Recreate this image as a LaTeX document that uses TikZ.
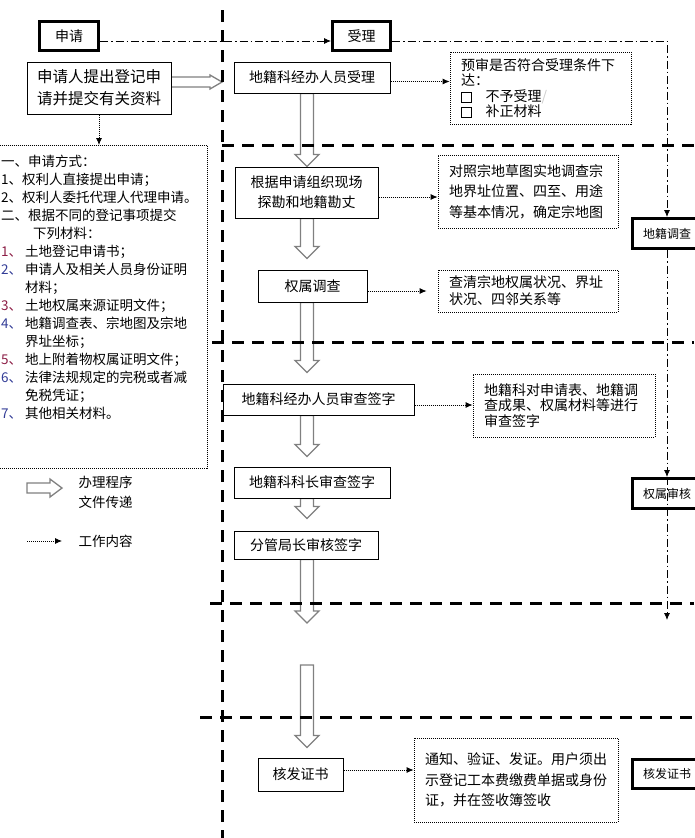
\documentclass[tikz,border=0pt]{standalone}
\usepackage{fontspec}
\setmainfont{Noto Sans CJK SC}
\usetikzlibrary{arrows.meta,backgrounds,calc}

\definecolor{numred}{RGB}{140,30,70}
\definecolor{numblue}{RGB}{50,60,150}

\newcommand{\flowarrow}[3]{\draw[flow] let \p1=(#1), \p2=(#2) in (300.5pt,\y1) -- (300.5pt,\y2+#3+12pt) -- (295pt,\y2+#3+12pt) -- (307pt,\y2+#3) -- (319pt,\y2+#3+12pt) -- (313.5pt,\y2+#3+12pt) -- (313.5pt,\y1) -- cycle;}
\newcommand{\tickbox}{\raisebox{-0.5pt}{\setlength{\fboxsep}{0pt}\setlength{\fboxrule}{0.8pt}\fbox{\rule{0pt}{9pt}\hspace{9pt}}}}

\begin{document}
\begin{tikzpicture}[x=1pt,y=-1pt,
	box/.style={draw,fill=white,line width=1pt,inner sep=0pt,align=center,font=\fontsize{14}{20}\selectfont},
	heavy/.style={box,line width=3pt},
	note/.style={draw,fill=white,dash pattern=on 1pt off 1pt,line width=0.8pt,inner xsep=11pt,inner ysep=0pt,align=left,font=\fontsize{14}{15.5}\selectfont},
	work/.style={dash pattern=on 1pt off 1pt,line width=0.8pt,-{Latex[length=7pt,width=6pt]}},
	flow/.style={draw=gray,fill=white,line width=1.3pt},
	lane/.style={line width=3pt,dash pattern=on 12pt off 8pt},
	route/.style={line width=0.8pt,dash pattern=on 8pt off 3pt on 1.5pt off 3pt,-{Latex[length=7pt,width=6pt]}}]
			\useasboundingbox (0,0) rectangle (694,838);
			\node[heavy,minimum width=59,minimum height=29] (sq) at (69,36) {申请};
			\node[heavy,minimum width=58,minimum height=29] (sl) at (361.5,36) {受理};
			\node[heavy,font=\fontsize{12}{14}\selectfont,minimum width=70,minimum height=30] (dj) at (667,233.5) {地籍调查};
			\node[heavy,font=\fontsize{12}{14}\selectfont,minimum width=70,minimum height=30] (qs) at (667,493.5) {权属审核};
			\node[heavy,font=\fontsize{12}{14}\selectfont,minimum width=70,minimum height=29] (hf) at (667,774) {核发证书};
			\node[box,font=\fontsize{15.5}{22}\selectfont,minimum width=144,minimum height=52] (apply) at (99,88) {申请人提出登记申\\请并提交有关资料};
			\node[draw,dash pattern=on 1pt off 1pt,line width=0.8pt,inner sep=0pt,anchor=north west,minimum width=211,minimum height=323] (docs) at (-4,145) {};
			\node[anchor=north west,inner sep=0pt,align=left,font=\fontsize{13.5}{18}\selectfont] (doctext) at (1,155) {一、申请方式：\\
				\makebox[21pt][l]{1、}权利人直接提出申请；\\
				\makebox[21pt][l]{2、}权利人委托代理人代理申请。\\
				二、根据不同的登记事项提交\\
				\hspace*{32pt}下列材料：\\
				\makebox[24pt][l]{\textcolor{numred}{1、}}土地登记申请书；\\
				\makebox[24pt][l]{\textcolor{numblue}{2、}}申请人及相关人员身份证明\\
				\hspace*{24pt}材料；\\
				\makebox[24pt][l]{\textcolor{numred}{3、}}土地权属来源证明文件；\\
				\makebox[24pt][l]{\textcolor{numblue}{4、}}地籍调查表、宗地图及宗地\\
				\hspace*{24pt}界址坐标；\\
				\makebox[24pt][l]{\textcolor{numred}{5、}}地上附着物权属证明文件；\\
				\makebox[24pt][l]{\textcolor{numblue}{6、}}法律法规规定的完税或者减\\
				\hspace*{24pt}免税凭证；\\
				\makebox[24pt][l]{\textcolor{numblue}{7、}}其他相关材料。};
			\node[box,minimum width=156,minimum height=31] (r1) at (312,77.5) {地籍科经办人员受理};
			\node[box,minimum width=143,minimum height=51] (r2) at (306.5,192.5) {根据申请组织现场\\探勘和地籍勘丈};
			\node[box,minimum width=109,minimum height=32] (r3) at (312.5,286) {权属调查};
			\node[box,minimum width=191,minimum height=31] (r4) at (318.5,399.5) {地籍科经办人员审查签字};
			\node[box,minimum width=156,minimum height=31] (r5) at (312,482.5) {地籍科科长审查签字};
			\node[box,minimum width=144,minimum height=28] (r6) at (306,545) {分管局长审核签字};
			\node[box,minimum width=85,minimum height=33] (r7) at (300.5,774.5) {核发证书};
			\node[note,text width=159,minimum height=72] (c1) at (540.5,88) {预审是否符合受理条件下\\达：\\\tickbox\quad 不予受理\textcolor{gray!40}{/}\\\tickbox\quad 补正材料};
			\node[note,font=\fontsize{14}{20.5}\selectfont,text width=158,minimum height=73] (c2) at (528,191.5) {对照宗地草图实地调查宗\\地界址位置、四至、用途\\等基本情况，确定宗地图};
			\node[note,font=\fontsize{14}{17}\selectfont,text width=158,minimum height=42] (c3) at (528,291) {查清宗地权属状况、界址\\状况、四邻关系等};
			\node[note,text width=160,minimum height=63] (c4) at (564,405.5) {地籍科对申请表、地籍调\\查成果、权属材料等进行\\审查签字};
			\node[note,font=\fontsize{14}{20.5}\selectfont,text width=182,minimum height=84] (c5) at (516,780) {通知、验证、发证。用户须出\\示登记工本费缴费单据或身份\\证，并在签收簿签收};
			\node[anchor=west,align=left,font=\fontsize{13.5}{20}\selectfont] (lgflow) at (75,492) {办理程序\\文件传递};
			\node[anchor=west,font=\fontsize{13.5}{20}\selectfont] (lgwork) at (75,541) {工作内容};
			\coordinate (ap) at (222,82);
			\coordinate (cut1) at (307,623);
			\coordinate (cut2) at (307,665);
			\coordinate (qsend) at (667,620);
			\coordinate (lg1) at (27,541);
			\coordinate (lg2) at (62,541);
			\begin{scope}[on background layer]
			\draw[flow] let \p1=(apply.east), \p2=(ap) in (\x1,\y2+5pt) -- (\x2-12pt,\y2+5pt) -- (\x2-12pt,\y2+7pt) -- (\x2,\y2) -- (\x2-12pt,\y2-7pt) -- (\x2-12pt,\y2-5pt) -- (\x1,\y2-5pt);
			\flowarrow{r1.south}{r2.north}{0pt}
			\flowarrow{r2.south}{r3.north}{11pt}
			\flowarrow{r3.south}{r4.north}{11pt}
			\flowarrow{r4.south}{r5.north}{10pt}
			\flowarrow{r5.south}{r6.north}{12pt}
			\flowarrow{r6.south}{cut1}{0pt}
			\flowarrow{cut2}{r7.north}{10pt}
			\draw[flow] (27,483) -- (50,483) -- (50,479) -- (62,488) -- (50,497) -- (50,493) -- (27,493) -- cycle;
			\end{scope}
			\draw[work] (apply.south) -- (apply.south |- docs.north);
			\draw[work] ([yshift=-4pt]r1.east) -- ([yshift=-4pt]r1.east -| c1.west);
			\draw[work] ([yshift=-4.5pt]r2.east) -- ([yshift=-4.5pt]r2.east -| c2.west);
			\draw[work] ([yshift=-5pt]r3.east) -- ([xshift=-11pt,yshift=-5pt]r3.east -| c3.west);
			\draw[work] ([yshift=-5.5pt]r4.east) -- ([yshift=-5.5pt]r4.east -| c4.west);
			\draw[work] ([yshift=4.5pt]r7.east) -- ([yshift=4.5pt]r7.east -| c5.west);
			\draw[work] (lg1) -- (lg2);
			\draw[route] ([yshift=-5pt]sq.east) -- ([yshift=-5pt]sl.west);
			\draw[route] ([yshift=-5pt]sl.east) -| (dj.north);
			\draw[route] (dj.south) -- (qs.north);
			\draw[route] (qs.north) -- (qsend);
			\draw[lane] (222,10) -- (222,838);
			\draw[lane] (222,145) -- (694,145);
			\draw[lane] (212,342) -- (694,342);
			\draw[lane] (210,603) -- (694,603);
			\draw[lane] (200,717) -- (694,717);
\end{tikzpicture}
\end{document}
